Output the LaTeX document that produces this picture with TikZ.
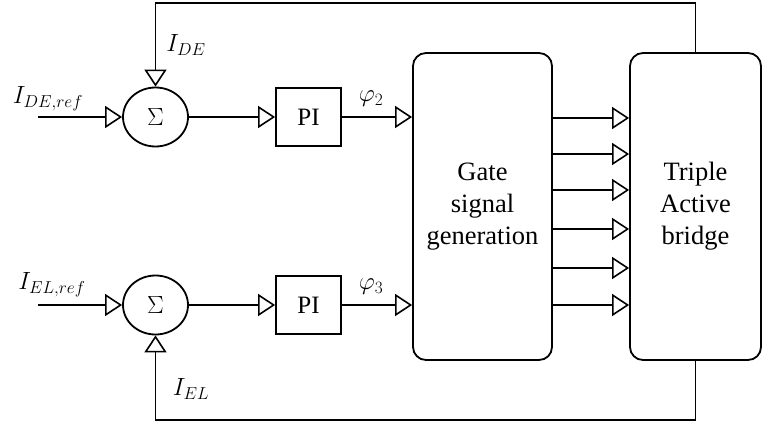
\documentclass[tikz,border=0pt]{standalone}
\usepackage{fontspec}
\setmainfont{Liberation Serif}
\DeclareMathSizes{24}{24}{18}{14}
\usetikzlibrary{arrows.meta,shapes.geometric,calc}
\begin{document}
\begin{tikzpicture}[x=1pt,y=-1pt,
  line width=1.8pt,
  tri/.style={-{Triangle[open,length=17pt,width=22pt,line width=1.6pt]}},
  sumnode/.style={draw,ellipse,minimum width=65pt,minimum height=59pt,inner sep=0pt,font=\fontsize{24}{28}\selectfont},
  pibox/.style={draw,rectangle,minimum width=65pt,minimum height=58pt,inner sep=0pt,font=\fontsize{25}{28}\selectfont},
  bigbox/.style={draw,rectangle,rounded corners=13pt,minimum height=307pt,inner sep=0pt,align=center,font=\fontsize{26.5}{32}\selectfont},
  lbl/.style={font=\fontsize{24}{28}\selectfont,inner sep=0pt}]
\useasboundingbox (0,0) rectangle (762,423);
% nodes
\node[sumnode] (s1) at (155.5,117) {$\Sigma$};
\node[sumnode] (s2) at (155.5,305) {$\Sigma$};
\node[pibox] (p1) at (308.5,117) {PI};
\node[pibox] (p2) at (308.5,305) {PI};
\node[bigbox,minimum width=139pt] (gate) at (482.5,206.5) {Gate\\signal\\generation};
\node[bigbox,minimum width=131pt] (tab) at (695.5,206.5) {Triple\\Active\\bridge};
\coordinate (in1) at (38,117);
\coordinate (in2) at (38,305);
% labels
\node[lbl] (l1) at (48,99) {$I_{DE,ref}$};
\node[lbl] (l2) at (186,45) {$I_{DE}$};
\node[lbl] (l3) at (371,99) {$\varphi_2$};
\node[lbl] (l4) at (52,285) {$I_{EL,ref}$};
\node[lbl] (l5) at (191,389) {$I_{EL}$};
\node[lbl] (l6) at (371,287) {$\varphi_3$};
% connectors
\draw[tri] (in1) -- (s1.west);
\draw[tri] (in2) -- (s2.west);
\draw[tri] (s1.east) -- (p1.west);
\draw[tri] (s2.east) -- (p2.west);
\draw[tri] (p1.east) -- (gate.west |- p1.east);
\draw[tri] (p2.east) -- (gate.west |- p2.east);
\draw[tri] (tab.north) -- ++(0,-49) -| (s1.north);
\draw[tri] (tab.south) -- ++(0,59) -| (s2.south);
\foreach \yy in {118,154,190,229,268,305}{
  \draw[tri] (gate.east |- 0,\yy) -- (tab.west |- 0,\yy);
}
\end{tikzpicture}
\end{document}
